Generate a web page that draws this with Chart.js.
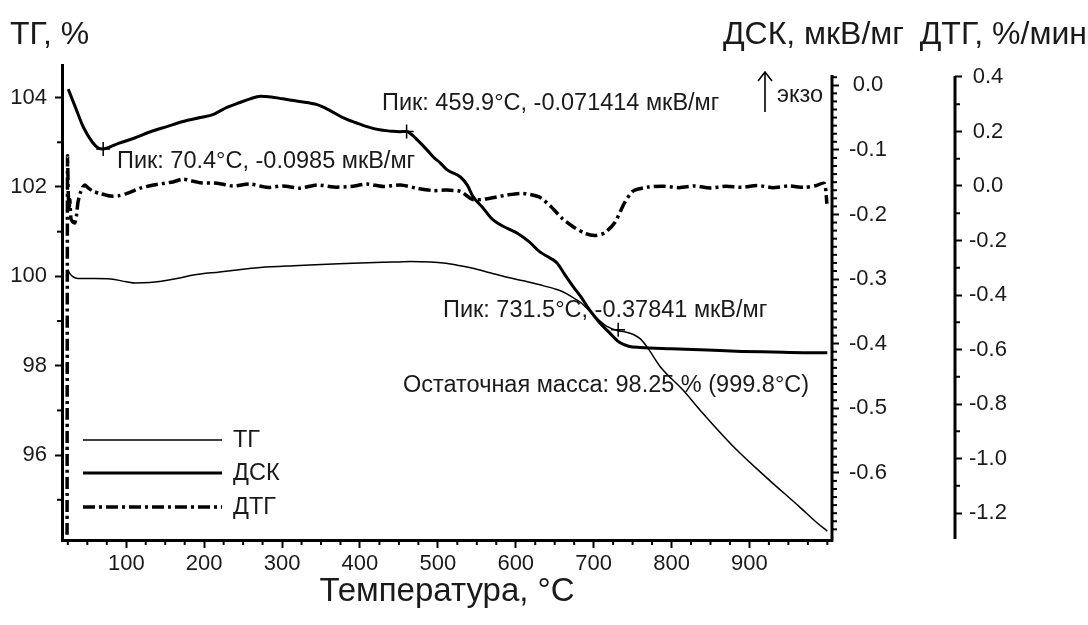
<!DOCTYPE html>
<html><head><meta charset="utf-8">
<script src="https://cdn.jsdelivr.net/npm/chart.js@4.4.1/dist/chart.umd.min.js"></script>
<style>html,body{margin:0;padding:0;background:#fff}#wrap{width:1088px;height:625px}</style>
</head><body><div id="wrap"><canvas id="c" width="1088" height="625"></canvas></div>
<script>
// ---- data ----
const tgT = [25, 27, 31, 38, 60, 80, 100, 112, 130, 145, 165, 186, 220, 250, 272, 315, 358, 400, 443, 465, 490, 507, 525, 545, 567, 589, 610, 631, 650, 661, 673, 683, 695, 705, 717, 730, 740, 751, 760, 769, 785, 815, 837, 879, 923, 965, 987, 1000];
const tgV = [100.15, 100.08, 100.0, 99.95, 99.95, 99.94, 99.88, 99.85, 99.86, 99.89, 99.95, 100.03, 100.1, 100.16, 100.2, 100.24, 100.27, 100.3, 100.32, 100.33, 100.32, 100.3, 100.25, 100.18, 100.08, 99.98, 99.9, 99.81, 99.72, 99.65, 99.53, 99.42, 99.22, 99.05, 98.88, 98.79, 98.76, 98.7, 98.6, 98.41, 97.99, 97.45, 97.0, 96.2, 95.48, 94.83, 94.48, 94.3];

const dscT = [25.5, 35, 45, 57, 64, 70.4, 80, 90, 110, 131, 152, 173, 195, 212, 220, 230, 245, 259, 272, 286, 301, 322, 345, 360, 378, 395, 409, 425, 440, 450, 459.9, 468, 474, 486, 495, 503, 512, 529, 538, 545, 558, 568, 576, 590, 602, 617, 631, 645, 653, 663, 674, 684, 692, 700, 708, 717, 725, 733, 745, 760, 800, 846, 890, 930, 970, 1000];
const dscV = [-0.006, -0.035, -0.065, -0.089, -0.097, -0.0985, -0.095, -0.09, -0.082, -0.072, -0.064, -0.056, -0.05, -0.045, -0.04, -0.034, -0.027, -0.021, -0.017, -0.018, -0.021, -0.025, -0.03, -0.038, -0.05, -0.058, -0.064, -0.069, -0.071, -0.072, -0.0714, -0.078, -0.085, -0.1, -0.112, -0.12, -0.131, -0.142, -0.155, -0.172, -0.19, -0.205, -0.213, -0.222, -0.229, -0.242, -0.258, -0.268, -0.275, -0.293, -0.312, -0.328, -0.343, -0.356, -0.368, -0.379, -0.389, -0.398, -0.404, -0.406, -0.408, -0.41, -0.412, -0.413, -0.414, -0.414];

const dtgT = [24, 24.6, 25.5, 26.5, 27.5, 29, 31, 34, 36, 38, 41, 44, 47, 51, 58, 67, 80, 90, 101, 118, 135, 160, 173, 195, 217, 237, 259, 281, 301, 323, 345, 366, 388, 409, 430, 452, 473, 494, 510, 529, 545, 567, 589, 609, 630, 645, 660, 675, 690, 702, 714, 727, 740, 751, 770, 790, 810, 830, 850, 870, 890, 910, 930, 950, 970, 985, 996, 999.5];
const dtgV = [-1.28, 0.107, -0.02, -0.09, -0.05, -0.12, -0.13, -0.135, -0.11, -0.06, -0.025, -0.005, 0.004, -0.007, -0.02, -0.028, -0.037, -0.036, -0.027, -0.008, 0.004, 0.015, 0.025, 0.012, 0.01, 0.0, 0.007, -0.005, 0.0, -0.008, 0.004, -0.004, -0.002, 0.007, -0.002, 0.004, -0.008, -0.017, -0.015, -0.02, -0.05, -0.045, -0.033, -0.027, -0.04, -0.075, -0.12, -0.152, -0.175, -0.182, -0.172, -0.135, -0.06, -0.018, -0.004, -0.001, -0.006, 0.0, -0.007, -0.001, -0.005, 0.002, -0.006, 0.0, -0.005, 0.001, 0.01, -0.065];

const peakT = [70.4, 459.9, 731.5];
const peakV = [-0.0985, -0.071414, -0.37841];

const xTicks = [100, 200, 300, 400, 500, 600, 700, 800, 900];
const tgTicks = [96, 98, 100, 102, 104];
const dscTicks = [0.0, -0.1, -0.2, -0.3, -0.4, -0.5, -0.6];
const dtgTicks = [0.4, 0.2, 0.0, -0.2, -0.4, -0.6, -0.8, -1.0, -1.2];

const seriesNames = ['ТГ', 'ДСК', 'ДТГ'];
const axisTitles = ['ТГ, %', 'ДСК, мкВ/мг', 'ДТГ, %/мин', 'Температура, °C'];
const notes = ['Пик: 459.9°C, -0.071414 мкВ/мг', 'Пик: 70.4°C, -0.0985 мкВ/мг', 'Пик: 731.5°C, -0.37841 мкВ/мг', 'Остаточная масса: 98.25 % (999.8°C)', 'экзо'];

// ---- helpers ----
const FONT = '"Liberation Sans", Arial, Helvetica, sans-serif';
const zip = (a, b) => a.map((v, i) => ({x: v, y: b[i]}));
const DTG_DASH = [12, 4, 3, 4];

const decor = {
  id: 'decor',
  beforeDraw(chart) {
    const c = chart.ctx;
    c.save(); c.fillStyle = '#fff'; c.fillRect(0, 0, chart.width, chart.height); c.restore();
  },
  afterDraw(chart) {
    const c = chart.ctx, ca = chart.chartArea, s = chart.scales;
    const line = (x1, y1, x2, y2) => { c.beginPath(); c.moveTo(x1, y1); c.lineTo(x2, y2); c.stroke(); };
    c.save();
    c.strokeStyle = '#000';
    // right axis lines
    c.lineWidth = 3;
    line(s.yDSC.left, s.yDSC.getPixelForValue(0.016), s.yDSC.left, ca.bottom + 1.5);
    line(s.yDTG.left, s.yDTG.getPixelForValue(0.4) - 1, s.yDTG.left, ca.bottom - 1);
    // minor ticks
    c.lineWidth = 2;
    for (let v = 25; v <= 1000; v += 25) {
      if (v % 100 === 0 && v < 1000) continue;
      const p = s.x.getPixelForValue(v); line(p, ca.bottom, p, ca.bottom + 5);
    }
    for (let v = 95; v <= 104; v += 2) {
      const p = s.y.getPixelForValue(v); line(ca.left - 5, p, ca.left, p);
    }
    for (let i = 1; i <= 56; i++) {
      if (i % 8 === 0) continue;
      const p = s.yDSC.getPixelForValue(-i * 0.0125); line(s.yDSC.left, p, s.yDSC.left + 5, p);
    }
    const pt = s.yDSC.getPixelForValue(0.0125); line(s.yDSC.left, pt, s.yDSC.left + 5, pt);
    for (let v = 0.3; v > -1.25; v -= 0.2) {
      const p = s.yDTG.getPixelForValue(v); line(s.yDTG.left, p, s.yDTG.left + 5, p);
    }
    // top titles
    c.fillStyle = '#1a1a1a';
    c.textBaseline = 'middle';
    c.font = '32px ' + FONT;
    c.textAlign = 'left'; c.fillText(axisTitles[0], 10, 35);
    c.textAlign = 'right'; c.fillText(axisTitles[1], 904, 35);
    c.fillText(axisTitles[2], 1087, 35);
    // annotations
    c.font = '23.5px ' + FONT; c.textAlign = 'left';
    c.fillText(notes[0], 382, 104);
    c.fillText(notes[1], 117, 162);
    c.fillText(notes[2], 443, 311);
    c.fillText(notes[3], 403, 386);
    c.fillText(notes[4], 777, 96);
    // exo arrow
    c.lineWidth = 1.6;
    line(765, 112, 765, 73);
    c.beginPath(); c.moveTo(758, 81); c.lineTo(765, 72); c.lineTo(772, 81); c.stroke();
    // legend
    const lx1 = 83, lx2 = 222, ly = [440, 473, 507];
    const lw = [1.5, 3, 3.5];
    for (let i = 0; i < 3; i++) {
      c.lineWidth = lw[i];
      c.setLineDash(i === 2 ? DTG_DASH : []);
      line(lx1, ly[i], lx2, ly[i]);
    }
    c.setLineDash([]);
    c.font = '23.5px ' + FONT;
    for (let i = 0; i < 3; i++) c.fillText(seriesNames[i], 233, ly[i] + 1);
    c.restore();
  }
};

const tickFont = {family: FONT, size: 22};
const gridOpts = {display: true, drawOnChartArea: false, color: '#000', tickLength: 7, tickWidth: 2};

new Chart(document.getElementById('c'), {
  type: 'line',
  data: {
    datasets: [
      {label: seriesNames[0], data: zip(tgT, tgV), yAxisID: 'y', borderColor: '#000', borderWidth: 1.5, pointRadius: 0, cubicInterpolationMode: 'monotone', fill: false},
      {label: seriesNames[1], data: zip(dscT, dscV), yAxisID: 'yDSC', borderColor: '#000', borderWidth: 3, pointRadius: 0, cubicInterpolationMode: 'monotone', fill: false},
      {label: seriesNames[2], data: zip(dtgT, dtgV), yAxisID: 'yDTG', borderColor: '#000', borderWidth: 3.5, borderDash: DTG_DASH, pointRadius: 0, tension: 0.25, fill: false},
      {label: 'peaks', data: zip(peakT, peakV), yAxisID: 'yDSC', showLine: false, pointStyle: 'cross', pointRadius: 7, pointBorderWidth: 1.5, pointBorderColor: '#000', borderColor: '#000'}
    ]
  },
  options: {
    responsive: false, animation: false, devicePixelRatio: 1,
    layout: {padding: {top: 65, left: 0, right: 0, bottom: 0}},
    plugins: {legend: {display: false}, tooltip: {enabled: false}},
    scales: {
      x: {
        type: 'linear', position: 'bottom', min: 17.5, max: 1006,
        afterBuildTicks: sc => { sc.ticks = xTicks.map(v => ({value: v})); },
        afterFit: sc => { sc.height = 85; },
        ticks: {font: tickFont, color: '#1a1a1a', padding: 3, maxRotation: 0, autoSkip: false},
        grid: Object.assign({}, gridOpts, {tickLength: 8}),
        border: {display: true, color: '#000', width: 3},
        title: {display: true, text: axisTitles[3], font: {family: FONT, size: 33}, color: '#1a1a1a', padding: {top: 0, bottom: 13}}
      },
      y: {
        type: 'linear', position: 'left', min: 94.1, max: 104.73,
        afterBuildTicks: sc => { sc.ticks = tgTicks.map(v => ({value: v})); },
        afterFit: sc => { sc.width = 62; },
        ticks: {font: tickFont, color: '#1a1a1a', padding: 8},
        grid: gridOpts,
        border: {display: true, color: '#000', width: 3}
      },
      yDSC: {
        type: 'linear', position: 'right', min: -0.704, max: 0.0314,
        afterBuildTicks: sc => { sc.ticks = dscTicks.map(v => ({value: v})); },
        afterFit: sc => { sc.width = 123; },
        ticks: {font: tickFont, color: '#1a1a1a', padding: 10, crossAlign: 'center', callback: v => Number(v).toFixed(1)},
        grid: gridOpts,
        border: {display: false}
      },
      yDTG: {
        type: 'linear', position: 'right', min: -1.299, max: 0.444,
        afterBuildTicks: sc => { sc.ticks = dtgTicks.map(v => ({value: v})); },
        afterFit: sc => { sc.width = 133; },
        ticks: {font: tickFont, color: '#1a1a1a', padding: 7, crossAlign: 'center', callback: v => Number(v).toFixed(1)},
        grid: gridOpts,
        border: {display: false}
      }
    }
  },
  plugins: [decor]
});
</script></body></html>
